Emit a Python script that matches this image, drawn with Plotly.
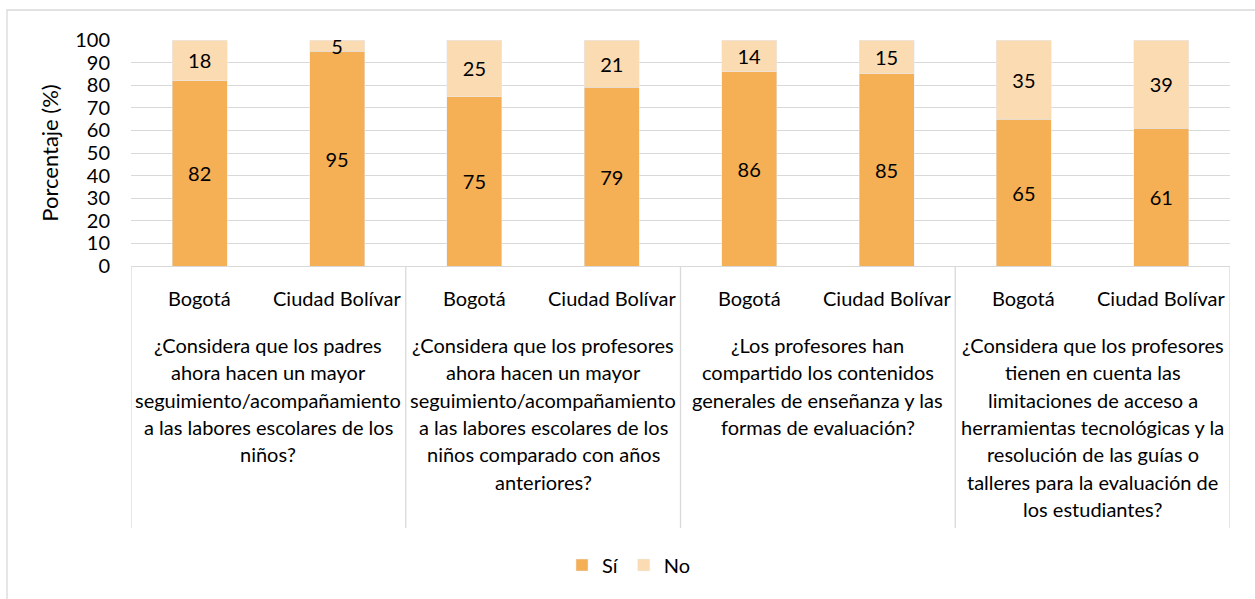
import plotly.graph_objects as go

# Survey answers (percent) per question and locality
regions = ["Bogotá", "Ciudad Bolívar"] * 4
si_vals = [82, 95, 75, 79, 86, 85, 65, 61]
no_vals = [18, 5, 25, 21, 14, 15, 35, 39]

questions = [
    ["¿Considera que los padres", "ahora hacen un mayor", "seguimiento/acompañamiento",
     "a las labores escolares de los", "niños?"],
    ["¿Considera que los profesores", "ahora hacen un mayor", "seguimiento/acompañamiento",
     "a las labores escolares de los", "niños comparado con años", "anteriores?"],
    ["¿Los profesores han", "compartido los contenidos", "generales de enseñanza y las",
     "formas de evaluación?"],
    ["¿Considera que los profesores", "tienen en cuenta las", "limitaciones de acceso a",
     "herramientas tecnológicas y la", "resolución de las guías o",
     "talleres para la evaluación de", "los estudiantes?"],
]

C_SI = "#F5AF55"
C_NO = "#FBDBB1"
GRID = "#D9D9D9"
FONT = "Lato"
FS = 20

W, H = 1255, 599
ML, MR, MT, MB = 131, 25, 40, 333
PLOT_H = H - MT - MB
PLOT_W = W - ML - MR


def py(px):
    """Convert a pixel row to paper y."""
    return (H - MB - px) / PLOT_H


def pxx(px):
    """Convert a pixel column to paper x."""
    return (px - ML) / PLOT_W


xpos = list(range(len(regions)))

fig = go.Figure()
fig.add_trace(go.Bar(
    x=xpos, y=si_vals, name="Sí", marker_color=C_SI, width=0.4,
    text=[str(v) for v in si_vals], textposition="inside",
    insidetextanchor="middle", textangle=0,
    textfont=dict(family=FONT, size=FS, color="black"),
))
fig.add_trace(go.Bar(
    x=xpos, y=no_vals, name="No", marker_color=C_NO, width=0.4,
    text=[str(v) for v in no_vals], textposition="inside",
    insidetextanchor="middle", textangle=0,
    textfont=dict(family=FONT, size=FS, color="black"),
))

annotations = []
# locality labels under each bar
for x, r in zip(xpos, regions):
    annotations.append(dict(
        x=x, xref="x", y=py(298), yref="paper", text=r, showarrow=False,
        xanchor="center", yanchor="middle",
        font=dict(family=FONT, size=FS, color="black"),
    ))
# question labels, one line at a time
LINE_H = 27.3
for g, lines in enumerate(questions):
    cx = 2 * g + 0.5
    for i, line in enumerate(lines):
        annotations.append(dict(
            x=cx, xref="x", y=py(345 + i * LINE_H), yref="paper", text=line,
            showarrow=False, xanchor="center", yanchor="middle",
            font=dict(family=FONT, size=FS, color="black"),
        ))

shapes = []
# group separators below the axis
for b in [-0.5, 1.5, 3.5, 5.5, 7.5]:
    shapes.append(dict(
        type="line", xref="x", yref="paper", x0=b, x1=b, y0=0, y1=py(528),
        line=dict(color=GRID, width=1.3),
    ))
# chart frame
shapes.append(dict(
    type="rect", xref="paper", yref="paper",
    x0=pxx(7), x1=pxx(W + 20), y0=py(10), y1=py(H + 20),
    line=dict(color=GRID, width=1.3), layer="below",
))

fig.update_layout(
    width=W, height=H,
    margin=dict(l=ML, r=MR, t=MT, b=MB),
    barmode="stack",
    plot_bgcolor="white", paper_bgcolor="white",
    font=dict(family=FONT, size=FS, color="black"),
    uniformtext=dict(minsize=FS, mode="show"),
    showlegend=True,
    legend=dict(
        orientation="h", x=pxx(629), xanchor="center", y=py(565), yanchor="middle",
        font=dict(family=FONT, size=FS, color="black"),
        itemwidth=30, traceorder="normal",
    ),
    xaxis=dict(
        range=[-0.5, 7.5], showticklabels=False, showgrid=False, zeroline=False,
        showline=True, linecolor=GRID, linewidth=1.3, ticks="",
    ),
    yaxis=dict(
        range=[0, 100], dtick=10, showgrid=True, gridcolor=GRID, gridwidth=1.3,
        zeroline=False, showline=False, ticks="", ticklabelstandoff=20,
        tickfont=dict(family=FONT, size=FS, color="black"),
        title=dict(text="Porcentaje (%)", standoff=10,
                   font=dict(family=FONT, size=22, color="black")),
    ),
    annotations=annotations,
    shapes=shapes,
    bargap=0.6,
)

fig.write_html("out.html")
